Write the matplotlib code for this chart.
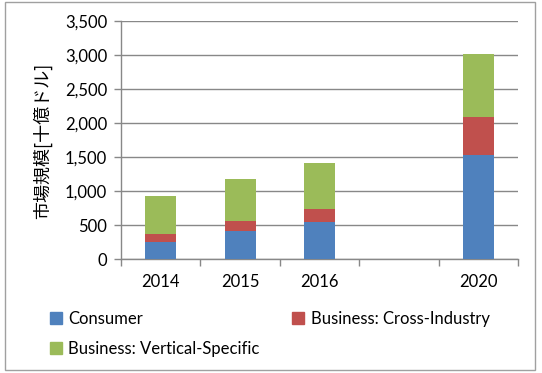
import matplotlib
matplotlib.use("Agg")
import matplotlib.pyplot as plt
from matplotlib.patches import Patch, Rectangle
import numpy as np

categories = ["2014", "2015", "2016", "", "2020"]
consumer = [254, 412, 539, np.nan, 1529]
cross_industry = [113, 151, 201, np.nan, 563]
vertical_specific = [563, 613, 672, np.nan, 917]
series_names = ["Consumer", "Business: Cross-Industry", "Business: Vertical-Specific"]
colors = ["#4F81BD", "#C0504D", "#9BBB59"]
ylabel = "市場規模[十億ドル]"
yticks = [0, 500, 1000, 1500, 2000, 2500, 3000, 3500]

plt.rcParams['font.family'] = ['Lato', 'DejaVu Sans']

W, H = 542, 373
fig = plt.figure(figsize=(W / 100, H / 100), dpi=100)
ax = fig.add_axes([121 / W, (H - 259) / H, (518 - 121) / W, (259 - 21) / H])

x = np.arange(len(categories))
c = np.array(consumer, dtype=float)
ci = np.array(cross_industry, dtype=float)
vs = np.array(vertical_specific, dtype=float)
bw = 0.39
ax.bar(x, c, bw, color=colors[0], zorder=3)
ax.bar(x, ci, bw, bottom=c, color=colors[1], zorder=3)
ax.bar(x, vs, bw, bottom=c + ci, color=colors[2], zorder=3)

ax.set_xlim(-0.5, len(categories) - 0.5)
ax.set_ylim(0, 3500)
ax.set_yticks(yticks)
ax.set_yticklabels([f"{v:,}" for v in yticks], fontsize=12)
ax.set_xticks(x)
ax.set_xticklabels(categories, fontsize=12)
ax.set_xticks(np.arange(-0.5, len(categories), 1.0), minor=True)
ax.tick_params(axis='x', which='major', length=0, pad=11)
ax.tick_params(axis='x', which='minor', length=5, color='#888888', width=1)
ax.tick_params(axis='y', length=5, color='#888888', width=1, pad=5)
ax.yaxis.grid(True, color='#888888', linewidth=1, zorder=0)
for s in ['top', 'right']:
    ax.spines[s].set_visible(False)
for s in ['left', 'bottom']:
    ax.spines[s].set_color('#888888')
    ax.spines[s].set_linewidth(1)

fig.text(42 / W, 1 - 141 / H, ylabel, rotation=90, ha='center', va='center',
         fontsize=13, family=['Noto Sans CJK JP', 'DejaVu Sans'])

handles = [Patch(color=colors[0]), Patch(color=colors[2]), Patch(color=colors[1])]
labels = [series_names[0], series_names[2], series_names[1]]
fig.legend(handles, labels, ncol=2, loc='upper left',
           bbox_to_anchor=(35 / W, 1 - 296 / H), frameon=False,
           fontsize=12, handlelength=0.7, handleheight=0.7,
           handletextpad=0.4, columnspacing=1.95, labelspacing=0.85)

fig.patches.append(Rectangle((5 / W, 3 / H), 530 / W, 368 / H,
                             transform=fig.transFigure, fill=False,
                             edgecolor='#A0A0A0', linewidth=1))

fig.savefig("out.png", dpi=100)
